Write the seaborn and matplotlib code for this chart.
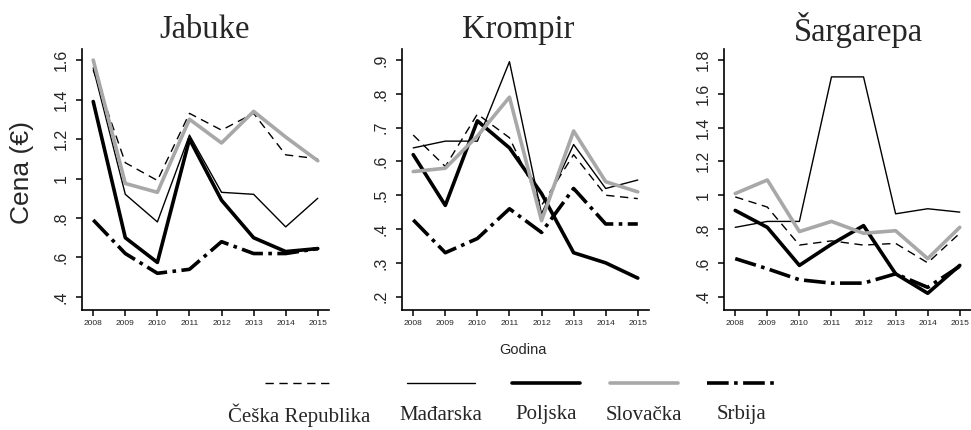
import pandas as pd
import matplotlib
matplotlib.use("Agg")
import matplotlib.pyplot as plt
import seaborn as sns
from matplotlib.lines import Line2D


godine = [2008, 2009, 2010, 2011, 2012, 2013, 2014, 2015]
zemlje = ["Češka Republika", "Mađarska", "Poljska", "Slovačka", "Srbija"]

# Jabuke
jabuke_ceska = [1.55, 1.08, 0.99, 1.33, 1.245, 1.33, 1.12, 1.10]
jabuke_madjarska = [1.56, 0.92, 0.78, 1.22, 0.93, 0.92, 0.755, 0.90]
jabuke_poljska = [1.39, 0.70, 0.575, 1.20, 0.89, 0.70, 0.63, 0.645]
jabuke_slovacka = [1.60, 0.975, 0.93, 1.30, 1.18, 1.34, 1.21, 1.09]
jabuke_srbija = [0.79, 0.62, 0.52, 0.54, 0.68, 0.62, 0.62, 0.645]

# Krompir
krompir_ceska = [0.678, 0.585, 0.74, 0.67, 0.47, 0.62, 0.50, 0.49]
krompir_madjarska = [0.64, 0.66, 0.66, 0.895, 0.445, 0.65, 0.52, 0.545]
krompir_poljska = [0.62, 0.47, 0.72, 0.64, 0.505, 0.33, 0.30, 0.255]
krompir_slovacka = [0.57, 0.58, 0.675, 0.79, 0.425, 0.69, 0.54, 0.51]
krompir_srbija = [0.427, 0.33, 0.372, 0.46, 0.39, 0.52, 0.415, 0.415]

# Sargarepa
sargarepa_ceska = [0.99, 0.93, 0.705, 0.73, 0.705, 0.715, 0.60, 0.775]
sargarepa_madjarska = [0.81, 0.845, 0.845, 1.70, 1.70, 0.89, 0.92, 0.90]
sargarepa_poljska = [0.91, 0.81, 0.585, 0.71, 0.82, 0.535, 0.42, 0.585]
sargarepa_slovacka = [1.01, 1.09, 0.785, 0.845, 0.775, 0.79, 0.625, 0.81]
sargarepa_srbija = [0.625, 0.565, 0.50, 0.48, 0.48, 0.535, 0.455, 0.58]

proizvodi = ["Jabuke", "Krompir", "Šargarepa"]
podaci = {
    "Jabuke": [jabuke_ceska, jabuke_madjarska, jabuke_poljska, jabuke_slovacka, jabuke_srbija],
    "Krompir": [krompir_ceska, krompir_madjarska, krompir_poljska, krompir_slovacka, krompir_srbija],
    "Šargarepa": [sargarepa_ceska, sargarepa_madjarska, sargarepa_poljska, sargarepa_slovacka, sargarepa_srbija],
}

y_tikovi = {
    "Jabuke": [0.4, 0.6, 0.8, 1.0, 1.2, 1.4, 1.6],
    "Krompir": [0.2, 0.3, 0.4, 0.5, 0.6, 0.7, 0.8, 0.9],
    "Šargarepa": [0.4, 0.6, 0.8, 1.0, 1.2, 1.4, 1.6, 1.8],
}
y_oznake = {
    "Jabuke": [".4", ".6", ".8", "1", "1.2", "1.4", "1.6"],
    "Krompir": [".2", ".3", ".4", ".5", ".6", ".7", ".8", ".9"],
    "Šargarepa": [".4", ".6", ".8", "1", "1.2", "1.4", "1.6", "1.8"],
}

redovi = []
for p in proizvodi:
    for z, vrednosti in zip(zemlje, podaci[p]):
        for g, v in zip(godine, vrednosti):
            redovi.append({"Proizvod": p, "Zemlja": z, "Godina": g, "Cena": v})
df = pd.DataFrame(redovi)

boje = {"Češka Republika": "black", "Mađarska": "black", "Poljska": "black",
        "Slovačka": "#a8a8a8", "Srbija": "black"}
debljine = {"Češka Republika": 1.0, "Mađarska": 1.0, "Poljska": 2.6,
            "Slovačka": 2.6, "Srbija": 2.6}
crtice = {"Češka Republika": (6, 4), "Mađarska": "", "Poljska": "",
          "Slovačka": "", "Srbija": (6, 1.5, 1, 1.5)}

sns.set_style("ticks")
plt.rcParams["font.family"] = ["Liberation Sans", "DejaVu Sans"]

W, H = 971, 430
fig = plt.figure(figsize=(W / 100, H / 100), dpi=100)

# (left, right, top, bottom) in pixels, and y-limits
pozicije = {
    "Jabuke": (82, 329, 49, 310, (0.334, 1.656)),
    "Krompir": (402, 649, 49, 310, (0.1606, 0.9325)),
    "Šargarepa": (724, 971, 49, 310, (0.321, 1.865)),
}
naslov_x = {"Jabuke": 205, "Krompir": 518, "Šargarepa": 858}

for p in proizvodi:
    l, r, t, b, ylim = pozicije[p]
    ax = fig.add_axes([l / W, (H - b) / H, (r - l) / W, (b - t) / H])
    sns.lineplot(data=df[df["Proizvod"] == p], x="Godina", y="Cena",
                 hue="Zemlja", style="Zemlja", size="Zemlja",
                 palette=boje, dashes=crtice, sizes=debljine,
                 legend=False, ax=ax)
    ax.set_xlim(2007.65, 2015.35)
    ax.set_ylim(*ylim)
    ax.set_xticks(godine)
    ax.set_xticklabels([str(g) for g in godine], fontsize=6)
    ax.set_yticks(y_tikovi[p])
    ax.set_yticklabels(y_oznake[p], fontsize=11.5, rotation=90, va="center")
    ax.tick_params(axis="both", direction="out", length=4.5, width=1.1, color="black")
    ax.tick_params(axis="y", pad=5)
    ax.tick_params(axis="x", pad=3)
    for s in ["top", "right"]:
        ax.spines[s].set_visible(False)
    for s in ["left", "bottom"]:
        ax.spines[s].set_linewidth(1.2)
        ax.spines[s].set_color("black")
    ax.set_xlabel("")
    ax.set_ylabel("")
    fig.text(naslov_x[p] / W, (H - 30) / H, p, ha="center", va="center",
             fontsize=23.5, family="Liberation Serif")

fig.text(22 / W, (H - 172) / H, "Cena (€)", rotation=90, ha="center",
         va="center", fontsize=19)
fig.text(523 / W, (H - 350) / H, "Godina", ha="center", va="center", fontsize=10.5)

# legend: line samples above, labels below
leg_x = [299, 441, 546, 644, 741]
for z, x in zip(zemlje, leg_x):
    fig.add_artist(Line2D([(x - 34) / W, (x + 34) / W], [(H - 383) / H] * 2,
                          transform=fig.transFigure, color=boje[z],
                          linewidth=debljine[z],
                          dashes=crtice[z] if crtice[z] else (None, None)))
    fig.text(x / W, (H - 415) / H, z, ha="center", va="center",
             fontsize=15, family="Liberation Serif")

fig.savefig("out.png", dpi=100, facecolor="white")
